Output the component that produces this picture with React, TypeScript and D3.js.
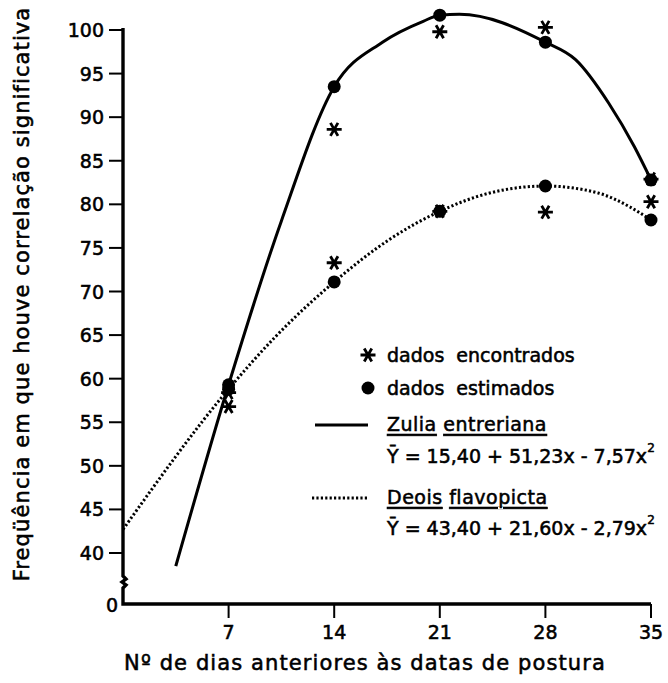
import React from "react";
import * as d3 from "d3";

const width = 668;
const height = 683;

// dias anteriores às datas de postura
const days = [7, 14, 21, 28, 35];
const yTicks = [40, 45, 50, 55, 60, 65, 70, 75, 80, 85, 90, 95, 100];

// Zulia entreriana
const zuliaEstimated = [59.3, 93.5, 101.7, 98.6, 82.8];
const zuliaFound = [56.8, 88.6, 99.8, 100.3, 82.9];
// pontos lidos ao longo da curva ajustada
const zuliaCurveX = [3.5, 7, 10.5, 14, 17.2, 19.9, 21, 22.3, 28, 30, 32.2, 33.9, 35];
const zuliaCurveY = [38.5, 59.3, 78.1, 93.5, 98.6, 101.0, 101.7, 101.8, 98.6, 96.6, 91.6, 86.6, 82.8];

// Deois flavopicta
const deoisEstimated = [58.8, 71.1, 79.2, 82.1, 78.2];
const deoisFound = [58.4, 73.3, 79.2, 79.1, 80.3];
const deoisCurveX = [0, 7, 10.1, 14, 17.6, 21, 24.3, 28, 31.5, 33.6, 35];
const deoisCurveY = [42.7, 58.8, 64.8, 71.1, 75.9, 79.2, 81.3, 82.1, 81.3, 79.7, 78.2];

const font = "DejaVu Sans";

const x = d3.scaleLinear().domain([0, 35]).range([123, 651]);
const y = d3.scaleLinear().domain([40, 100]).range([553, 30]);
const baseY = 604;

const curve = d3
  .line<[number, number]>()
  .x((d) => x(d[0]))
  .y((d) => y(d[1]))
  .curve(d3.curveMonotoneX);

// asterisco de 6 pontas
const star = (cx: number, cy: number, r: number) => {
  let p = "";
  for (let i = 0; i < 3; i++) {
    const a = (i * Math.PI) / 3;
    const dx = r * Math.cos(a);
    const dy = r * Math.sin(a);
    p += `M${cx - dx},${cy - dy}L${cx + dx},${cy + dy}`;
  }
  return p;
};

const Star = ({ cx, cy }: { cx: number; cy: number }) => (
  <path d={star(cx, cy, 7.5)} stroke="#000" strokeWidth={2.8} fill="none" />
);

const ink = { stroke: "#000", strokeWidth: 0.55 };

export default function App() {
  const zuliaPts = zuliaCurveX.map((d, i) => [d, zuliaCurveY[i]] as [number, number]);
  const deoisPts = deoisCurveX.map((d, i) => [d, deoisCurveY[i]] as [number, number]);

  return (
    <svg
      width={width}
      height={height}
      style={{ position: "absolute", left: 0, top: 0, background: "#fff" }}
      fontFamily={font}
    >
      {/* eixo y com quebra */}
      <path
        d={`M123,28L123,576 l3,3 l-4,3 l4,3 l-3,3 L123,${baseY}L651,${baseY}`}
        fill="none"
        stroke="#000"
        strokeWidth={3.4}
      />
      {yTicks.map((t) => (
        <g key={t}>
          <line x1={109} x2={123} y1={y(t)} y2={y(t)} stroke="#000" strokeWidth={2} />
          <text x={104} y={y(t)} textAnchor="end" dominantBaseline="central" fontSize={19} {...ink}>
            {t}
          </text>
        </g>
      ))}
      <text x={118} y={baseY + 1} textAnchor="end" dominantBaseline="central" fontSize={19} {...ink}>
        0
      </text>

      {days.map((d) => (
        <g key={d}>
          <line x1={x(d)} x2={x(d)} y1={baseY} y2={618} stroke="#000" strokeWidth={2} />
          <text x={x(d)} y={632} textAnchor="middle" dominantBaseline="central" fontSize={19} {...ink}>
            {d}
          </text>
        </g>
      ))}

      <text
        x={365}
        y={663}
        textAnchor="middle"
        dominantBaseline="central"
        fontSize={21}
        letterSpacing={1.1}
        {...ink}
      >
        Nº de dias anteriores às datas de postura
      </text>
      <text
        transform="translate(22,294) rotate(-90)"
        textAnchor="middle"
        dominantBaseline="central"
        fontSize={21}
        letterSpacing={1.1}
        {...ink}
      >
        Freqüência em que houve correlação significativa
      </text>

      {/* curvas */}
      <path d={curve(zuliaPts) || ""} fill="none" stroke="#000" strokeWidth={3} />
      <path
        d={curve(deoisPts) || ""}
        fill="none"
        stroke="#000"
        strokeWidth={3}
        strokeDasharray="2.2 2.2"
      />

      {days.map((d, i) => (
        <g key={"m" + d}>
          <circle cx={x(d)} cy={y(zuliaEstimated[i])} r={6.5} fill="#000" />
          <circle cx={x(d)} cy={y(deoisEstimated[i])} r={6.5} fill="#000" />
          <Star cx={x(d)} cy={y(zuliaFound[i])} />
          <Star cx={x(d)} cy={y(deoisFound[i])} />
        </g>
      ))}

      {/* legenda */}
      <g fontSize={19}>
        <Star cx={368} cy={355} />
        <text x={387} y={355} dominantBaseline="central" wordSpacing={6} {...ink}>
          dados encontrados
        </text>
        <circle cx={368} cy={388} r={6.5} fill="#000" />
        <text x={387} y={388} dominantBaseline="central" wordSpacing={6} {...ink}>
          dados estimados
        </text>
        <line x1={315} x2={368} y1={425} y2={425} stroke="#000" strokeWidth={3} />
        <text x={387} y={424} dominantBaseline="central" letterSpacing={0.5} {...ink}>
          <tspan textDecoration="underline">Zulia</tspan>
          <tspan> </tspan>
          <tspan textDecoration="underline">entreriana</tspan>
        </text>
        <text x={387} y={456} dominantBaseline="central" {...ink}>
          Ȳ = 15,40 + 51,23x - 7,57x
          <tspan dy={-8} fontSize={12}>
            2
          </tspan>
        </text>
        <line
          x1={312}
          x2={368}
          y1={498}
          y2={498}
          stroke="#000"
          strokeWidth={3}
          strokeDasharray="2.2 2.2"
        />
        <text x={387} y={497} dominantBaseline="central" letterSpacing={0.5} {...ink}>
          <tspan textDecoration="underline">Deois</tspan>
          <tspan> </tspan>
          <tspan textDecoration="underline">flavopicta</tspan>
        </text>
        <text x={387} y={528} dominantBaseline="central" {...ink}>
          Ȳ = 43,40 + 21,60x - 2,79x
          <tspan dy={-8} fontSize={12}>
            2
          </tspan>
        </text>
      </g>
    </svg>
  );
}
